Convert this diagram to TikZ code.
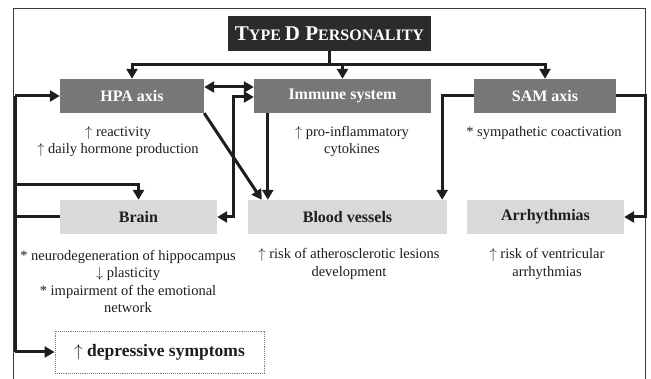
\documentclass[tikz,border=0pt]{standalone}
\usepackage{fontspec}
\setmainfont{Liberation Serif}
\usetikzlibrary{arrows.meta}
\definecolor{darkbox}{HTML}{2B2B2B}
\definecolor{midbox}{HTML}{777777}
\definecolor{lightbox}{HTML}{D9D9D9}
\definecolor{linec}{HTML}{1E1E1E}
\definecolor{framec}{HTML}{3A3A3A}
\tikzset{
  topbox/.style={fill=darkbox, draw=none, text=white, inner sep=0pt,
    minimum width=203, minimum height=35, font=\bfseries},
  midbox/.style={fill=midbox, draw=none, text=white, inner sep=0pt,
    minimum height=34, font=\fontsize{16}{19}\selectfont\bfseries},
  lowbox/.style={fill=lightbox, draw=none, text=linec, inner sep=0pt,
    minimum height=34, font=\fontsize{16}{19}\selectfont\bfseries},
  effect/.style={align=center, text=linec, inner sep=0pt,
    font=\fontsize{14.5}{17.5}\selectfont},
  link/.style={line width=3pt, draw=linec, -{Triangle[length=10pt,width=11pt]}},
  twoway/.style={link, {Triangle[length=10pt,width=11pt]}-{Triangle[length=10pt,width=11pt]}},
  plain/.style={line width=3pt, draw=linec}
}
\begin{document}
\begin{tikzpicture}[x=1pt, y=-1pt]
			%%%%% START %%%%%
			\useasboundingbox (0, 0) rectangle (651, 379);
			\fill[white] (0, 0) rectangle (651, 379);
			\draw[line width=0.9pt, framec] (13, 379) -- (13, 8) -- (645, 8) -- (645, 379);
			
			\node[topbox] (type) at (329.5, 33.5) {\fontsize{21}{24}\selectfont T\fontsize{16}{18}\selectfont YPE \fontsize{21}{24}\selectfont D P\fontsize{16}{18}\selectfont ERSONALITY};
			
			\node[midbox, minimum width=144] (hpa) at (132, 96) {HPA axis};
			\node[midbox, minimum width=177] (immune) at (342.5, 96) {Immune system};
			\node[midbox, minimum width=142] (sam) at (545, 96) {SAM axis};
			
			\node[effect] (hpatxt) at (118, 141.5) {$\uparrow$ reactivity\\ $\uparrow$ daily hormone production};
			\node[effect] (immtxt) at (352, 141.5) {$\uparrow$ pro-inflammatory\\ cytokines};
			\node[effect] (samtxt) at (544, 133) {* sympathetic coactivation};
			
			\node[lowbox, minimum width=157] (brain) at (138.5, 217) {Brain};
			\node[lowbox, minimum width=199] (vessels) at (347.5, 217) {Blood vessels};
			\node[lowbox, minimum width=157] (arrhy) at (545.5, 217) {Arrhythmias};
			
			\node[effect] (braintxt) at (128, 281.5) {* neurodegeneration of hippocampus\\ $\downarrow$ plasticity\\ * impairment of the emotional\\ network};
			\node[effect] (vesstxt) at (349, 264) {$\uparrow$ risk of atherosclerotic lesions\\ development};
			\node[effect] (arrtxt) at (547, 264) {$\uparrow$ risk of ventricular\\ arrhythmias};
			
			\node[draw=gray, densely dotted, line width=0.9pt, minimum width=209, minimum height=42,
			      inner sep=0pt, text=linec, font=\fontsize{17.5}{20}\selectfont\bfseries]
			      (depr) at (159.5, 352) {$\uparrow$ depressive symptoms};
			
			% personality to the three axes
			\coordinate (split) at (329.5, 65);
			\draw[plain] (type.south) -- (split);
			\draw[link] (split) -| (hpa.north);
			\draw[link] (split) -| (immune.north);
			\draw[link] (split) -| (sam.north);
			
			% between the axes
			\draw[twoway] ([yshift=9pt]hpa.east) -- ([yshift=9pt]immune.west);
			\draw[twoway] (brain.east) -- ++(16, 0) |- ([yshift=-1pt]immune.west);
			\draw[link] (hpa.south east) -- ([xshift=14pt]vessels.north west);
			\draw[link] ([xshift=14pt]immune.south west) -- ([xshift=14pt]immune.south west |- vessels.north);
			\draw[link] (sam.west) -| ([xshift=-5pt]vessels.north east);
			\draw[link] (sam.east) -- ++(29, 0) |- (arrhy.east);
			
			% feedback line on the left
			\coordinate (bus) at (15, 0);
			\draw[plain] (bus |- hpa.west) -- (bus |- depr.west);
			\draw[link] (bus |- hpa.west) -- (hpa.west);
			\draw[link] (bus |- 0, 185) -| (brain.north);
			\draw[plain] (brain.west) -- (bus |- brain.west);
			\draw[link] (bus |- depr.west) -- (depr.west);
			
			%%%%% END %%%%%
\end{tikzpicture}
\end{document}
